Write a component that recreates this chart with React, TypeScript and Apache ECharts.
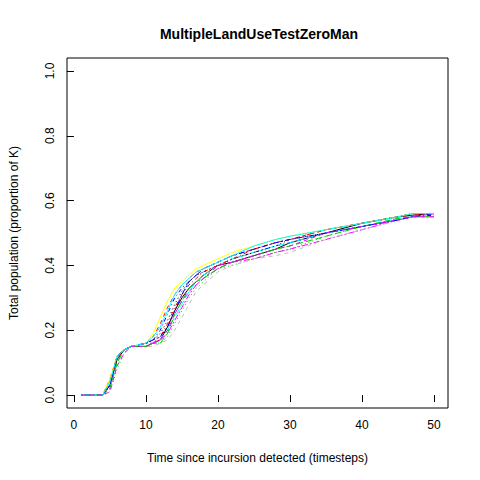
import React, { useEffect, useRef } from 'react'
import * as echarts from 'echarts';

const times = [1, 4, 5, 6, 7, 8, 10, 11, 12, 13, 14, 15, 16, 17, 18, 20, 22, 25, 28, 30, 35, 40, 45, 47, 50];
const xTicks = [0, 10, 20, 30, 40, 50];
const yTicks = [0, 0.2, 0.4, 0.6, 0.8, 1];

const runs: number[][] = [
  [0, 0, 0.03, 0.11, 0.14, 0.15, 0.15, 0.16, 0.17, 0.21, 0.26, 0.30, 0.33, 0.35, 0.37, 0.40, 0.41, 0.43, 0.45, 0.47, 0.50, 0.53, 0.55, 0.555, 0.56],
  [0, 0, 0.05, 0.12, 0.14, 0.15, 0.16, 0.18, 0.22, 0.27, 0.31, 0.34, 0.36, 0.38, 0.39, 0.41, 0.43, 0.45, 0.47, 0.48, 0.51, 0.53, 0.55, 0.56, 0.56],
  [0, 0, 0.01, 0.08, 0.13, 0.15, 0.15, 0.16, 0.16, 0.18, 0.22, 0.26, 0.30, 0.33, 0.35, 0.39, 0.40, 0.42, 0.44, 0.45, 0.49, 0.52, 0.54, 0.55, 0.555],
  [0, 0, 0.04, 0.12, 0.14, 0.15, 0.16, 0.17, 0.20, 0.25, 0.30, 0.33, 0.35, 0.37, 0.38, 0.40, 0.42, 0.44, 0.46, 0.47, 0.50, 0.52, 0.54, 0.55, 0.555],
  [0, 0, 0.02, 0.10, 0.14, 0.15, 0.15, 0.16, 0.17, 0.20, 0.24, 0.28, 0.32, 0.35, 0.37, 0.40, 0.42, 0.44, 0.46, 0.47, 0.50, 0.52, 0.545, 0.55, 0.56],
  [0, 0, 0.03, 0.12, 0.14, 0.15, 0.16, 0.16, 0.17, 0.19, 0.23, 0.27, 0.31, 0.34, 0.36, 0.39, 0.41, 0.42, 0.44, 0.45, 0.48, 0.51, 0.54, 0.55, 0.55],
  [0, 0, 0.05, 0.12, 0.14, 0.15, 0.16, 0.19, 0.24, 0.29, 0.33, 0.35, 0.37, 0.39, 0.40, 0.42, 0.44, 0.46, 0.48, 0.49, 0.51, 0.53, 0.55, 0.56, null as any],
  [0, 0, 0.02, 0.09, 0.13, 0.15, 0.15, 0.15, 0.16, 0.17, 0.20, 0.24, 0.28, 0.32, 0.34, 0.38, 0.40, 0.42, 0.43, 0.44, 0.48, 0.51, 0.54, 0.55, 0.56],
  [0, 0, 0.03, 0.11, 0.14, 0.15, 0.16, 0.17, 0.19, 0.23, 0.28, 0.32, 0.35, 0.37, 0.38, 0.40, 0.42, 0.44, 0.46, 0.48, 0.50, 0.53, 0.55, 0.56, null as any],
  [0, 0, 0.04, 0.11, 0.14, 0.15, 0.15, 0.16, 0.18, 0.22, 0.27, 0.31, 0.34, 0.36, 0.38, 0.40, 0.42, 0.45, 0.47, 0.48, 0.51, 0.53, 0.55, 0.555, 0.56],
  [0, 0, 0.02, 0.10, 0.14, 0.15, 0.15, 0.16, 0.16, 0.19, 0.25, 0.29, 0.33, 0.35, 0.36, 0.39, 0.41, 0.43, 0.45, 0.46, 0.49, 0.52, 0.545, 0.55, 0.55],
  [0, 0, 0.03, 0.12, 0.14, 0.15, 0.16, 0.17, 0.18, 0.21, 0.26, 0.31, 0.35, 0.37, 0.39, 0.41, 0.43, 0.45, 0.47, 0.48, 0.50, 0.52, 0.54, 0.55, 0.56],
  [0, 0, 0.04, 0.12, 0.14, 0.15, 0.16, 0.18, 0.21, 0.26, 0.31, 0.34, 0.36, 0.38, 0.39, 0.41, 0.43, 0.46, 0.48, 0.49, 0.51, 0.53, 0.55, 0.56, 0.56],
  [0, 0, 0.01, 0.09, 0.13, 0.15, 0.15, 0.16, 0.17, 0.20, 0.25, 0.29, 0.32, 0.34, 0.36, 0.40, 0.41, 0.43, 0.45, 0.46, 0.50, 0.52, 0.54, 0.55, 0.55],
];

const palette = ['#000000', '#FF0000', '#00CD00', '#0000FF', '#00FFFF', '#FF00FF', '#FFFF00', '#BEBEBE'];
const dashes: any[] = ['solid', [4, 4], [1, 3], [1, 3, 4, 3], [7, 3], [2, 2, 6, 2]];

const App = function () {
  const dom = useRef<HTMLDivElement>(null);
  useEffect(() => {
    const chart = echarts.init(dom.current!, null, { renderer: 'svg' });
    const axisFont = { fontFamily: 'Liberation Sans', fontSize: 12, color: '#000' };
    chart.setOption({
      animation: false,
      title: {
        text: 'MultipleLandUseTestZeroMan', left: 254, top: 22, textAlign: 'center',
        textStyle: { fontFamily: 'Liberation Sans', fontSize: 14, fontWeight: 'bold', color: '#000' },
      },
      grid: { left: 60, right: 32, top: 58, bottom: 72, show: true, borderColor: '#000', borderWidth: 1 },
      xAxis: {
        type: 'value', min: -0.96, max: 51.96,
        name: 'Time since incursion detected (timesteps)', nameLocation: 'middle', nameGap: 44,
        nameTextStyle: axisFont,
        axisLine: { show: false }, splitLine: { show: false },
        axisTick: { show: true, length: 7, lineStyle: { color: '#000' }, customValues: xTicks },
        axisLabel: { ...axisFont, margin: 11, customValues: xTicks },
      },
      yAxis: {
        type: 'value', min: -0.04, max: 1.04,
        name: 'Total population (proportion of K)', nameLocation: 'middle', nameGap: 47,
        nameTextStyle: axisFont,
        axisLine: { show: false }, splitLine: { show: false },
        axisTick: { show: true, length: 7, lineStyle: { color: '#000' }, customValues: yTicks },
        axisLabel: { ...axisFont, rotate: 90, margin: 11, customValues: yTicks, formatter: (v: number) => v.toFixed(1) },
      },
      series: runs.map((r, i) => ({
        type: 'line', symbol: 'none', silent: true,
        data: times.map((t, j) => [t, r[j]]),
        lineStyle: { width: 1, color: palette[i % palette.length], type: dashes[i % dashes.length] },
      })),
    });
    return () => chart.dispose();
  }, []);
  return <div ref={dom} style={{ width: 480, height: 480, position: 'absolute', left: 0, top: 0 }} />;
}

export default App
